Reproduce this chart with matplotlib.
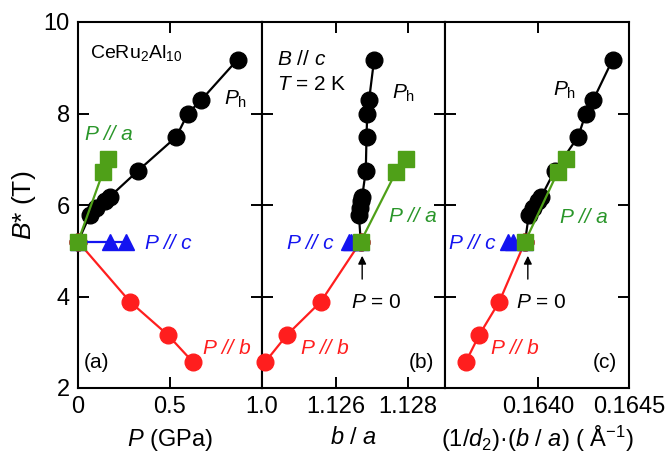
import matplotlib
matplotlib.use("Agg")
from matplotlib import pyplot as plt

plt.rcParams['font.family'] = ['Liberation Sans', 'DejaVu Sans']
plt.rcParams['mathtext.fontset'] = 'custom'
plt.rcParams['mathtext.rm'] = 'Liberation Sans'
plt.rcParams['mathtext.it'] = 'Liberation Sans:italic'
plt.rcParams['mathtext.bf'] = 'Liberation Sans:bold'

# B* (T) for each series, same order in every panel (first point = P = 0)
b_ph = [5.2, 5.78, 5.93, 6.08, 6.18, 6.75, 7.49, 8.0, 8.29, 9.18]
b_pa = [5.2, 6.73, 7.0]
b_pc = [5.2, 5.2, 5.2]
b_pb = [5.2, 3.89, 3.16, 2.57]

# panel (a): pressure (GPa)
p_ph = [0.0, 0.065, 0.10, 0.145, 0.173, 0.327, 0.535, 0.598, 0.670, 0.869]
p_pa = [0.0, 0.137, 0.164]
p_pc = [0.0, 0.173, 0.264]
p_pb = [0.0, 0.282, 0.489, 0.625]

# panel (b): b / a
ba_ph = [1.12669, 1.12664, 1.12666, 1.12669, 1.12673, 1.12683, 1.12685, 1.12687, 1.12692, 1.12706]
ba_pa = [1.12669, 1.12767, 1.12793]
ba_pc = [1.12669, 1.12637, 1.12642]
ba_pb = [1.12669, 1.12559, 1.12465, 1.12405]

# panel (c): (1/d2)(b/a)
q_ph = [0.163927, 0.163947, 0.163970, 0.163997, 0.164016, 0.164090, 0.164219, 0.164262, 0.164302, 0.164410]
q_pa = [0.163927, 0.164108, 0.164155]
q_pc = [0.163927, 0.163831, 0.163858]
q_pb = [0.163927, 0.163785, 0.163674, 0.163600]

GREEN = '#4fa018'
GREEN_TXT = '#2a962a'
BLUE = '#1414f0'
RED = '#ff1e1e'

fig = plt.figure(figsize=(6.68, 4.59), dpi=100)
left, bottom, height = 78 / 668, 71 / 459, 366 / 459
w = (629 - 78) / 3 / 668
axes = [fig.add_axes([left + i * w, bottom, w, height]) for i in range(3)]

panels = [
    (p_ph, p_pa, p_pc, p_pb),
    (ba_ph, ba_pa, ba_pc, ba_pb),
    (q_ph, q_pa, q_pc, q_pb),
]

for ax, (xph, xpa, xpc, xpb) in zip(axes, panels):
    ax.plot(xph, b_ph, '-o', color='k', ms=12, lw=1.6, clip_on=False, zorder=3)
    ax.plot(xpb, b_pb, '-o', color=RED, ms=12, lw=1.6, clip_on=False, zorder=3)
    ax.plot(xpc, b_pc, '-^', color=BLUE, ms=12, lw=1.6, clip_on=False, zorder=4)
    ax.plot(xpa, b_pa, '-s', color=GREEN, ms=11, lw=1.6, clip_on=False, zorder=5)
    ax.set_ylim(2, 10)
    ax.set_yticks([2, 4, 6, 8, 10])
    ax.tick_params(direction='in', top=True, right=True, length=8, width=1.4,
                   labelsize=17, pad=6)
    for s in ax.spines.values():
        s.set_linewidth(1.5)

ax_a, ax_b, ax_c = axes

ax_a.set_xlim(0, 1.0)
ax_a.set_xticks([0, 0.5, 1.0])
ax_a.set_xticklabels(['0', '0.5', '1.0'])
ax_b.set_xlim(1.12395, 1.12903)
ax_b.set_xticks([1.126, 1.128])
ax_b.set_xticklabels(['1.126', '1.128'])
ax_c.set_xlim(0.163487, 0.1645)
ax_c.set_xticks([0.1640, 0.1645])
ax_c.set_xticklabels(['0.1640', '0.1645'])
ax_b.tick_params(labelleft=False)
ax_c.tick_params(labelleft=False)

ax_a.set_ylabel('$B$* (T)', fontsize=19, labelpad=4)
ax_a.set_xlabel('$P$ (GPa)', fontsize=17, labelpad=6)
ax_b.set_xlabel('$b$ / $a$', fontsize=17, labelpad=6)
ax_c.set_xlabel('(1/$d_\\mathrm{2}$)·($b$ / $a$) ( Å$^\\mathrm{-1}$)', fontsize=17, labelpad=4)

fs = 15
# panel (a)
ax_a.text(0.065, 9.32, 'CeRu$_\\mathrm{2}$Al$_\\mathrm{10}$', fontsize=14, va='center')
ax_a.text(0.797, 8.30, '$P_\\mathrm{h}$', fontsize=fs, va='center')
ax_a.text(0.038, 7.55, 'P // a', fontsize=fs, style='italic', color=GREEN_TXT, va='center')
ax_a.text(0.363, 5.15, 'P // c', fontsize=fs, style='italic', color=BLUE, va='center')
ax_a.text(0.678, 2.87, 'P // b', fontsize=fs, style='italic', color=RED, va='center')
ax_a.text(0.03, 2.55, '(a)', fontsize=fs, va='center')

# panel (b)
ax_b.text(1.12438, 9.19, '$B$ // $c$', fontsize=fs, va='center')
ax_b.text(1.12438, 8.64, '$T$ = 2 K', fontsize=fs, va='center')
ax_b.text(1.12756, 8.45, '$P_\\mathrm{h}$', fontsize=fs, va='center')
ax_b.text(1.12747, 5.74, 'P // a', fontsize=fs, style='italic', color=GREEN_TXT, va='center')
ax_b.text(1.12466, 5.15, 'P // c', fontsize=fs, style='italic', color=BLUE, va='center')
ax_b.text(1.12642, 3.86, '$P$ = 0', fontsize=fs, va='center')
ax_b.text(1.12504, 2.87, 'P // b', fontsize=fs, style='italic', color=RED, va='center')
ax_b.text(1.12802, 2.55, '(b)', fontsize=fs, va='center')
ax_b.annotate('', xy=(1.12673, 4.95), xytext=(1.12673, 4.32),
              arrowprops=dict(arrowstyle='-|>', color='k', lw=1, mutation_scale=12))

# panel (c)
ax_c.text(0.164079, 8.51, '$P_\\mathrm{h}$', fontsize=fs, va='center')
ax_c.text(0.164118, 5.72, 'P // a', fontsize=fs, style='italic', color=GREEN_TXT, va='center')
ax_c.text(0.163508, 5.15, 'P // c', fontsize=fs, style='italic', color=BLUE, va='center')
ax_c.text(0.163879, 3.86, '$P$ = 0', fontsize=fs, va='center')
ax_c.text(0.163741, 2.87, 'P // b', fontsize=fs, style='italic', color=RED, va='center')
ax_c.text(0.164300, 2.55, '(c)', fontsize=fs, va='center')
ax_c.annotate('', xy=(0.163942, 4.95), xytext=(0.163942, 4.32),
              arrowprops=dict(arrowstyle='-|>', color='k', lw=1, mutation_scale=12))

fig.savefig('out.png', dpi=100)
